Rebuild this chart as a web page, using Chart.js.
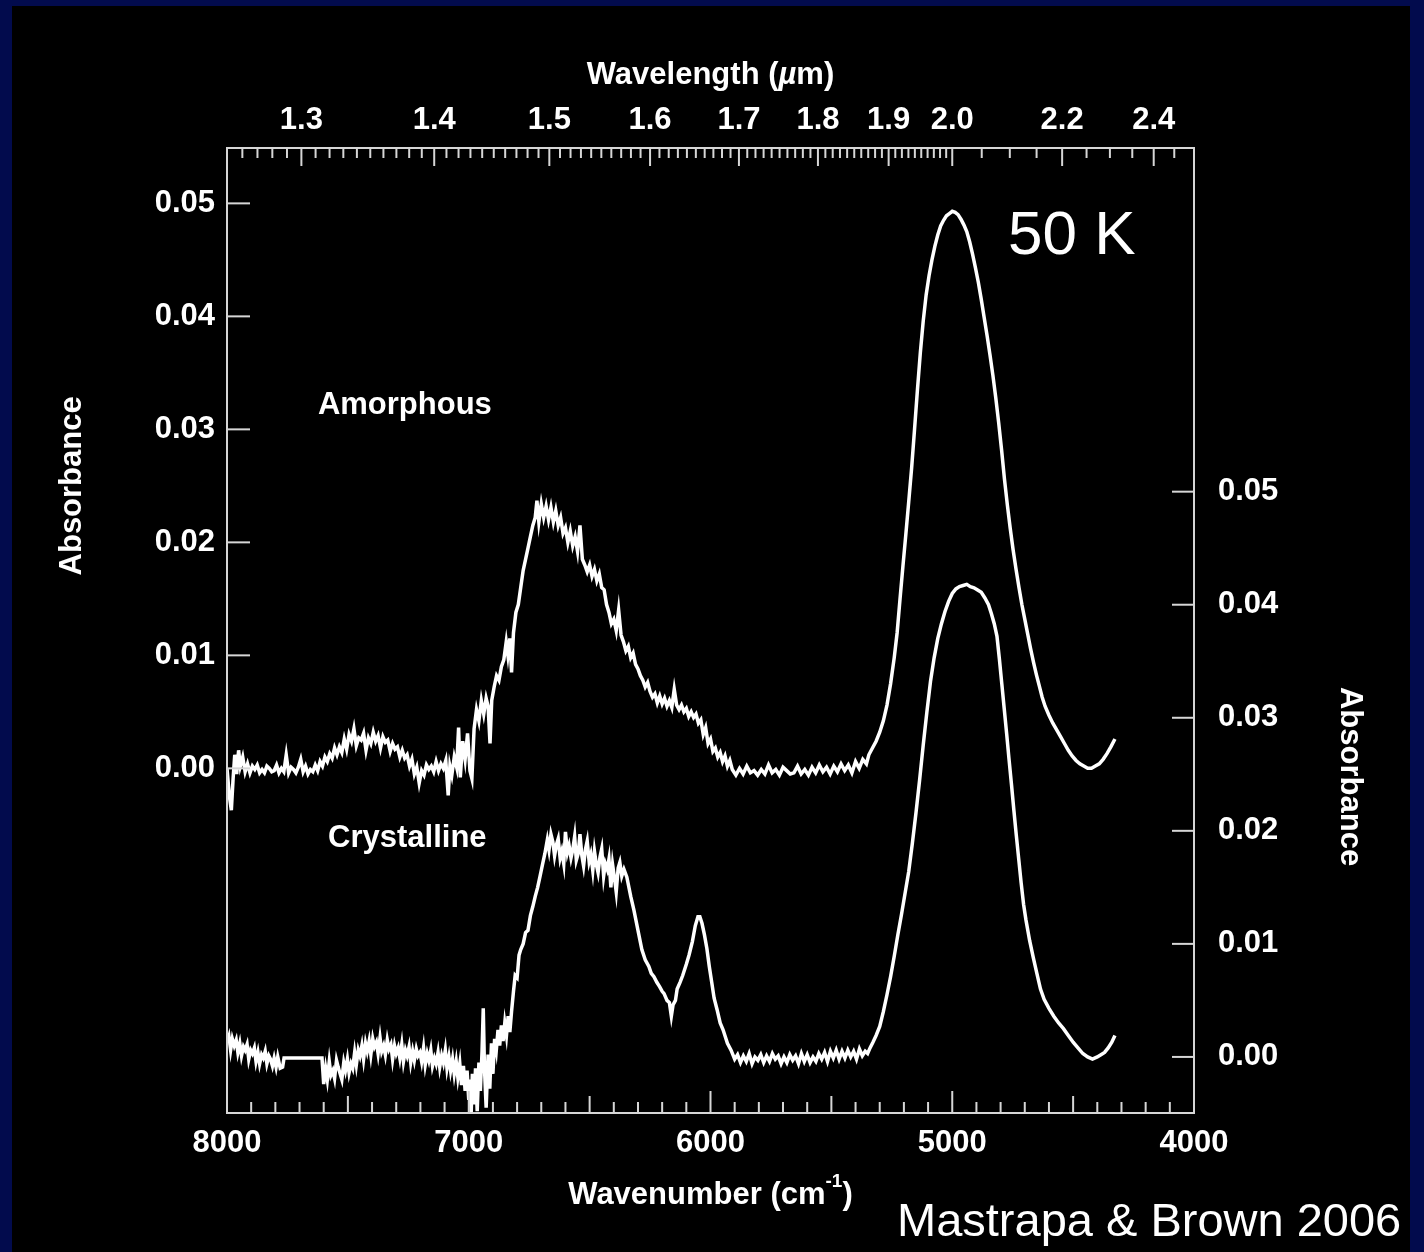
<!DOCTYPE html>
<html>
<head>
<meta charset="utf-8">
<title>Amorphous vs crystalline ice at 50 K</title>
<script src="https://cdn.jsdelivr.net/npm/chart.js@4.4.1/dist/chart.umd.min.js"></script>
<style>
  html, body { margin: 0; padding: 0; background: #020b4d; }
  canvas { display: block; }
</style>
</head>
<body>
<canvas id="spectra" width="1424" height="1252"></canvas>
<script>
// wavenumber (cm-1), absorbance
const amorphousSpectrum = [
  [8000, 0.0000], [7990, -0.0025], [7982, -0.0037], [7975, -0.0010], [7968, 0.0012], [7960, -0.0005],
  [7952, 0.0016], [7945, 0.0002], [7935, 0.0010], [7925, -0.0003], [7915, 0.0004], [7905, -0.0004],
  [7895, 0.0002], [7885, -0.0001], [7875, 0.0003], [7865, -0.0004], [7855, -0.0001], [7845, -0.0004],
  [7835, 0.0002], [7825, 0.0000], [7815, -0.0003], [7805, -0.0002], [7795, 0.0003], [7785, -0.0004],
  [7775, 0.0000], [7765, -0.0003], [7755, 0.0012], [7745, -0.0004], [7735, 0.0001], [7725, -0.0001],
  [7715, -0.0004], [7705, 0.0001], [7695, 0.0008], [7685, -0.0003], [7675, 0.0002], [7665, -0.0005],
  [7655, -0.0001], [7645, -0.0003], [7635, 0.0003], [7625, -0.0002], [7615, 0.0006], [7605, 0.0002],
  [7595, 0.0010], [7585, 0.0006], [7575, 0.0013], [7565, 0.0009], [7555, 0.0018], [7545, 0.0012],
  [7535, 0.0019], [7525, 0.0014], [7515, 0.0026], [7505, 0.0017], [7495, 0.0030], [7485, 0.0024],
  [7475, 0.0035], [7465, 0.0020], [7455, 0.0027], [7445, 0.0025], [7435, 0.0031], [7425, 0.0016],
  [7415, 0.0027], [7405, 0.0022], [7395, 0.0032], [7385, 0.0024], [7375, 0.0029], [7365, 0.0018],
  [7355, 0.0028], [7345, 0.0023], [7335, 0.0025], [7325, 0.0015], [7315, 0.0022], [7305, 0.0017],
  [7295, 0.0019], [7285, 0.0010], [7275, 0.0016], [7265, 0.0009], [7255, 0.0012], [7245, 0.0002],
  [7235, 0.0008], [7225, -0.0005], [7215, 0.0001], [7205, -0.0013], [7195, -0.0002], [7185, -0.0006],
  [7175, 0.0003], [7165, -0.0001], [7155, 0.0002], [7145, -0.0003], [7135, 0.0006], [7125, -0.0002],
  [7115, 0.0004], [7105, 0.0000], [7095, 0.0007], [7085, -0.0024], [7078, 0.0002], [7070, -0.0006],
  [7060, 0.0010], [7050, 0.0001], [7042, 0.0036], [7035, -0.0008], [7025, 0.0024], [7015, 0.0008],
  [7005, 0.0031], [6995, -0.0002], [6987, -0.0009], [6978, 0.0035], [6968, 0.0052], [6958, 0.0042],
  [6948, 0.0060], [6938, 0.0048], [6928, 0.0062], [6920, 0.0055], [6912, 0.0022], [6905, 0.0060],
  [6895, 0.0072], [6885, 0.0082], [6875, 0.0078], [6865, 0.0090], [6855, 0.0096], [6845, 0.0112],
  [6838, 0.0100], [6830, 0.0115], [6823, 0.0085], [6815, 0.0120], [6805, 0.0138], [6795, 0.0145],
  [6785, 0.0160], [6775, 0.0175], [6765, 0.0185], [6755, 0.0195], [6745, 0.0205], [6735, 0.0215],
  [6725, 0.0222], [6718, 0.0237], [6710, 0.0218], [6700, 0.0234], [6690, 0.0222], [6680, 0.0232],
  [6670, 0.0220], [6660, 0.0231], [6650, 0.0218], [6640, 0.0228], [6630, 0.0215], [6620, 0.0222],
  [6610, 0.0208], [6600, 0.0213], [6590, 0.0200], [6580, 0.0210], [6570, 0.0197], [6560, 0.0205],
  [6550, 0.0192], [6540, 0.0215], [6530, 0.0185], [6520, 0.0180], [6510, 0.0174], [6500, 0.0180],
  [6490, 0.0170], [6480, 0.0176], [6470, 0.0166], [6460, 0.0172], [6450, 0.0160], [6440, 0.0158],
  [6430, 0.0145], [6420, 0.0138], [6410, 0.0128], [6400, 0.0132], [6390, 0.0122], [6380, 0.0140],
  [6370, 0.0118], [6360, 0.0112], [6350, 0.0104], [6340, 0.0108], [6330, 0.0098], [6320, 0.0102],
  [6310, 0.0092], [6300, 0.0088], [6290, 0.0082], [6280, 0.0078], [6270, 0.0072], [6260, 0.0076],
  [6250, 0.0068], [6240, 0.0063], [6230, 0.0066], [6220, 0.0058], [6210, 0.0064], [6200, 0.0057],
  [6190, 0.0062], [6180, 0.0055], [6170, 0.0060], [6160, 0.0054], [6150, 0.0070], [6140, 0.0056],
  [6130, 0.0052], [6120, 0.0056], [6110, 0.0050], [6100, 0.0053], [6090, 0.0046], [6080, 0.0050],
  [6070, 0.0045], [6060, 0.0048], [6050, 0.0040], [6040, 0.0043], [6030, 0.0030], [6020, 0.0036],
  [6010, 0.0022], [6000, 0.0026], [5990, 0.0015], [5980, 0.0018], [5970, 0.0010], [5960, 0.0014],
  [5950, 0.0006], [5940, 0.0011], [5930, 0.0002], [5920, 0.0007], [5910, -0.0001], [5895, -0.0006],
  [5880, 0.0000], [5865, -0.0005], [5850, 0.0002], [5835, -0.0004], [5820, -0.0002], [5805, -0.0006],
  [5790, -0.0001], [5775, -0.0005], [5760, 0.0003], [5745, -0.0004], [5730, -0.0001], [5715, -0.0006],
  [5700, 0.0001], [5685, -0.0002], [5670, -0.0005], [5655, -0.0004], [5640, 0.0002], [5625, -0.0005],
  [5610, -0.0001], [5595, -0.0006], [5580, 0.0001], [5565, -0.0004], [5550, 0.0003], [5535, -0.0003],
  [5520, 0.0001], [5505, -0.0005], [5490, 0.0002], [5475, -0.0003], [5460, 0.0004], [5445, -0.0002],
  [5430, 0.0003], [5415, -0.0004], [5400, 0.0006], [5385, 0.0000], [5370, 0.0008], [5355, 0.0004],
  [5345, 0.0012], [5330, 0.0018], [5315, 0.0024], [5300, 0.0032], [5285, 0.0042], [5270, 0.0056],
  [5255, 0.0075], [5240, 0.0098], [5228, 0.0120], [5216, 0.0150], [5204, 0.0179], [5192, 0.0207],
  [5180, 0.0236], [5168, 0.0266], [5156, 0.0300], [5144, 0.0335], [5132, 0.0368], [5120, 0.0396],
  [5108, 0.0419], [5096, 0.0436], [5084, 0.0450], [5072, 0.0462], [5060, 0.0472], [5048, 0.0480],
  [5036, 0.0485], [5024, 0.0489], [5012, 0.0491], [5000, 0.0493], [4988, 0.0492], [4976, 0.0490],
  [4964, 0.0486], [4952, 0.0481], [4940, 0.0475], [4928, 0.0466], [4916, 0.0455], [4904, 0.0443],
  [4892, 0.0430], [4880, 0.0415], [4868, 0.0399], [4856, 0.0383], [4844, 0.0366], [4832, 0.0348],
  [4820, 0.0328], [4808, 0.0306], [4796, 0.0282], [4784, 0.0256], [4772, 0.0233], [4760, 0.0212],
  [4748, 0.0193], [4736, 0.0176], [4724, 0.0160], [4712, 0.0145], [4700, 0.0132], [4688, 0.0119],
  [4676, 0.0106], [4664, 0.0094], [4652, 0.0083], [4640, 0.0073], [4628, 0.0063], [4616, 0.0055],
  [4600, 0.0047], [4584, 0.0040], [4568, 0.0034], [4552, 0.0028], [4536, 0.0022], [4520, 0.0016],
  [4504, 0.0011], [4488, 0.0007], [4472, 0.0004], [4456, 0.0002], [4440, 0.0000], [4424, 0.0000],
  [4408, 0.0002], [4392, 0.0004], [4376, 0.0008], [4360, 0.0013], [4344, 0.0019], [4327, 0.0026]
];

const crystallineSpectrum = [
  [8000, 0.0012], [7992, 0.0018], [7985, 0.0006], [7978, 0.0016], [7970, 0.0010], [7962, 0.0015],
  [7955, 0.0004], [7947, 0.0012], [7940, 0.0001], [7932, 0.0009], [7925, 0.0006], [7917, 0.0011],
  [7910, -0.0002], [7902, 0.0006], [7895, 0.0003], [7887, 0.0008], [7880, -0.0004], [7872, 0.0004],
  [7865, -0.0006], [7857, 0.0002], [7850, -0.0001], [7842, 0.0005], [7835, -0.0006], [7827, 0.0001],
  [7820, -0.0002], [7812, -0.0008], [7805, -0.0001], [7797, -0.0009], [7790, 0.0000], [7780, -0.0010],
  [7770, -0.0009], [7764, -0.0001], [7607, -0.0001], [7600, -0.0024], [7592, -0.0010], [7585, -0.0020],
  [7577, -0.0004], [7570, -0.0016], [7562, -0.0012], [7555, -0.0019], [7547, -0.0003], [7540, -0.0009],
  [7532, -0.0015], [7525, -0.0020], [7517, -0.0005], [7510, -0.0012], [7502, -0.0002], [7495, -0.0014],
  [7487, -0.0006], [7480, -0.0010], [7472, 0.0004], [7465, -0.0007], [7457, 0.0006], [7450, 0.0001],
  [7442, 0.0010], [7435, -0.0002], [7427, 0.0012], [7420, 0.0005], [7412, 0.0014], [7405, 0.0002],
  [7397, 0.0016], [7390, 0.0009], [7382, 0.0013], [7375, 0.0003], [7367, 0.0017], [7360, 0.0005],
  [7352, 0.0010], [7345, 0.0002], [7337, 0.0015], [7330, 0.0007], [7322, 0.0011], [7315, -0.0002],
  [7307, 0.0010], [7300, 0.0003], [7292, 0.0008], [7285, -0.0001], [7277, 0.0011], [7270, -0.0004],
  [7262, 0.0006], [7255, 0.0001], [7247, 0.0009], [7240, -0.0005], [7232, 0.0005], [7225, -0.0003],
  [7217, 0.0007], [7210, 0.0001], [7202, 0.0004], [7195, -0.0004], [7187, 0.0008], [7180, -0.0007],
  [7172, 0.0003], [7165, -0.0003], [7157, 0.0006], [7150, -0.0008], [7142, -0.0001], [7135, -0.0006],
  [7127, 0.0004], [7120, -0.0009], [7112, 0.0001], [7105, -0.0005], [7097, 0.0006], [7090, -0.0010],
  [7082, 0.0000], [7075, -0.0012], [7067, -0.0002], [7060, -0.0015], [7052, -0.0004], [7045, -0.0018],
  [7037, -0.0006], [7030, -0.0025], [7022, -0.0008], [7015, -0.0030], [7007, -0.0012], [7000, -0.0038],
  [6995, -0.0020], [6990, -0.0050], [6985, -0.0015], [6978, -0.0042], [6972, -0.0010], [6965, -0.0048],
  [6958, -0.0005], [6952, -0.0030], [6945, 0.0005], [6940, 0.0043], [6935, -0.0010], [6928, -0.0045],
  [6920, 0.0002], [6913, -0.0028], [6906, 0.0012], [6900, -0.0015], [6893, 0.0016], [6886, 0.0006],
  [6879, 0.0024], [6872, 0.0010], [6865, 0.0028], [6858, 0.0014], [6851, 0.0030], [6844, 0.0019],
  [6837, 0.0036], [6830, 0.0022], [6823, 0.0040], [6815, 0.0058], [6808, 0.0072], [6800, 0.0070],
  [6792, 0.0090], [6785, 0.0095], [6775, 0.0100], [6765, 0.0110], [6755, 0.0112], [6745, 0.0125],
  [6735, 0.0133], [6725, 0.0142], [6715, 0.0150], [6705, 0.0160], [6695, 0.0170], [6685, 0.0180],
  [6675, 0.0192], [6668, 0.0183], [6660, 0.0197], [6652, 0.0190], [6645, 0.0178], [6637, 0.0188],
  [6630, 0.0193], [6622, 0.0176], [6615, 0.0182], [6607, 0.0171], [6600, 0.0199], [6592, 0.0181],
  [6585, 0.0187], [6577, 0.0176], [6570, 0.0183], [6562, 0.0195], [6555, 0.0174], [6547, 0.0180],
  [6540, 0.0197], [6532, 0.0178], [6525, 0.0169], [6517, 0.0184], [6510, 0.0191], [6502, 0.0173],
  [6495, 0.0179], [6487, 0.0165], [6480, 0.0182], [6472, 0.0170], [6465, 0.0163], [6457, 0.0177],
  [6450, 0.0184], [6442, 0.0160], [6435, 0.0171], [6427, 0.0166], [6420, 0.0175], [6412, 0.0150],
  [6405, 0.0170], [6397, 0.0158], [6390, 0.0146], [6382, 0.0167], [6375, 0.0172], [6367, 0.0160],
  [6358, 0.0166], [6346, 0.0159], [6330, 0.0142], [6317, 0.0130], [6300, 0.0112], [6284, 0.0095],
  [6270, 0.0086], [6255, 0.0080], [6245, 0.0074], [6234, 0.0071], [6222, 0.0066], [6210, 0.0062],
  [6200, 0.0058], [6192, 0.0056], [6180, 0.0050], [6170, 0.0048], [6162, 0.0036], [6155, 0.0046],
  [6145, 0.0050], [6138, 0.0060], [6126, 0.0066], [6115, 0.0072], [6100, 0.0082], [6089, 0.0090],
  [6075, 0.0102], [6063, 0.0116], [6052, 0.0124], [6044, 0.0124], [6035, 0.0118], [6025, 0.0108],
  [6015, 0.0096], [6005, 0.0080], [5995, 0.0066], [5985, 0.0052], [5973, 0.0042], [5960, 0.0030],
  [5948, 0.0024], [5930, 0.0012], [5915, 0.0006], [5900, -0.0002], [5888, 0.0002], [5876, -0.0005],
  [5864, 0.0001], [5852, -0.0004], [5840, 0.0003], [5828, -0.0006], [5816, 0.0000], [5804, -0.0003],
  [5792, 0.0002], [5780, -0.0005], [5768, 0.0001], [5756, -0.0004], [5744, 0.0003], [5732, -0.0002],
  [5720, 0.0001], [5708, -0.0006], [5696, 0.0000], [5684, -0.0005], [5672, 0.0002], [5660, -0.0003],
  [5648, 0.0001], [5636, -0.0006], [5624, 0.0003], [5612, -0.0004], [5600, 0.0002], [5588, -0.0005],
  [5576, 0.0000], [5564, -0.0004], [5552, 0.0003], [5540, -0.0002], [5528, 0.0004], [5516, -0.0004],
  [5504, 0.0005], [5492, -0.0001], [5480, 0.0006], [5468, -0.0002], [5456, 0.0005], [5444, -0.0001],
  [5432, 0.0006], [5420, 0.0000], [5408, 0.0005], [5396, -0.0002], [5384, 0.0007], [5372, 0.0001],
  [5360, 0.0005], [5350, 0.0003], [5340, 0.0008], [5328, 0.0013], [5315, 0.0019], [5300, 0.0027],
  [5285, 0.0040], [5270, 0.0055], [5255, 0.0071], [5240, 0.0089], [5225, 0.0108], [5210, 0.0126],
  [5195, 0.0145], [5180, 0.0164], [5165, 0.0189], [5150, 0.0216], [5135, 0.0245], [5120, 0.0276],
  [5105, 0.0305], [5090, 0.0332], [5075, 0.0353], [5060, 0.0370], [5045, 0.0383], [5030, 0.0394],
  [5015, 0.0403], [5000, 0.0410], [4985, 0.0414], [4970, 0.0416], [4955, 0.0417], [4940, 0.0418],
  [4925, 0.0416], [4910, 0.0415], [4895, 0.0413], [4880, 0.0411], [4865, 0.0406], [4850, 0.0400],
  [4838, 0.0392], [4826, 0.0383], [4815, 0.0372], [4805, 0.0352], [4795, 0.0330], [4785, 0.0308],
  [4775, 0.0286], [4765, 0.0263], [4755, 0.0241], [4745, 0.0218], [4735, 0.0196], [4725, 0.0175],
  [4715, 0.0154], [4705, 0.0135], [4695, 0.0121], [4680, 0.0103], [4665, 0.0088], [4650, 0.0074],
  [4635, 0.0060], [4620, 0.0051], [4600, 0.0043], [4580, 0.0036], [4560, 0.0030], [4540, 0.0025],
  [4520, 0.0019], [4500, 0.0013], [4480, 0.0008], [4460, 0.0003], [4440, 0.0000], [4420, -0.0002],
  [4400, 0.0000], [4385, 0.0002], [4370, 0.0004], [4355, 0.0008], [4340, 0.0013], [4327, 0.0019]
];

const wavenumberTicks = [8000, 7000, 6000, 5000, 4000];
const absorbanceTicks = [0, 0.01, 0.02, 0.03, 0.04, 0.05];
const wavelengthTicks = [1.3, 1.4, 1.5, 1.6, 1.7, 1.8, 1.9, 2.0, 2.2, 2.4];

const NAVY = "#020b4d";
const FRAME = "#d6d6d6";
const FAMILY = "'Liberation Sans', Arial, Helvetica, sans-serif";
const tickFont = { family: FAMILY, size: 31, weight: "bold", lineHeight: 1.2 };

function toPoints(rows) {
  return rows.map(([x, y]) => ({ x, y }));
}

function line(ctx, x1, y1, x2, y2) {
  ctx.beginPath();
  ctx.moveTo(x1, y1);
  ctx.lineTo(x2, y2);
  ctx.stroke();
}

// draw a run of text pieces with different fonts, centred on cx
function drawRuns(ctx, runs, cx, cy) {
  let total = 0;
  for (const r of runs) { ctx.font = r.font; total += ctx.measureText(r.text).width; }
  let x = cx - total / 2;
  for (const r of runs) {
    ctx.font = r.font;
    ctx.fillText(r.text, x, cy + (r.dy || 0));
    x += ctx.measureText(r.text).width;
  }
}

const framePlugin = {
  id: "frame",
  beforeDraw(chart) {
    const { ctx, width, height } = chart;
    ctx.save();
    ctx.fillStyle = NAVY;
    ctx.fillRect(0, 0, width, height);
    ctx.fillStyle = "#000";
    ctx.fillRect(12, 6, width - 26, height - 6);
    ctx.restore();
  },
  afterDraw(chart) {
    const { ctx, chartArea } = chart;
    const { left, right, top, bottom } = chartArea;
    const x = chart.scales.x, y = chart.scales.y, y2 = chart.scales.y2;
    ctx.save();
    ctx.strokeStyle = FRAME;
    ctx.lineWidth = 2;
    ctx.strokeRect(left, top, right - left, bottom - top);

    // bottom: minor every 100, medium 500, major 1000
    for (let v = 4000; v <= 8000; v += 100) {
      const px = x.getPixelForValue(v);
      const len = v % 1000 === 0 ? 22 : v % 500 === 0 ? 17 : 11;
      line(ctx, px, bottom, px, bottom - len);
    }
    // top: wavelength ticks (0.01 um up to 2.0, then 0.05 um)
    const lams = [];
    for (let i = 126; i < 200; i++) lams.push(i / 100);
    for (let i = 200; i <= 245; i += 5) lams.push(i / 100);
    for (const lam of lams) {
      const px = x.getPixelForValue(10000 / lam);
      const major = wavelengthTicks.some(t => Math.abs(t - lam) < 1e-6);
      line(ctx, px, top, px, top + (major ? 18 : 10));
    }
    // left and right major ticks point inward
    for (const v of absorbanceTicks) {
      const pl = y.getPixelForValue(v);
      line(ctx, left, pl, left + 23, pl);
      const pr = y2.getPixelForValue(v);
      line(ctx, right, pr, right - 22, pr);
    }

    ctx.fillStyle = "#fff";
    ctx.textBaseline = "middle";
    const bold = `bold 31px ${FAMILY}`;

    // axis titles
    drawRuns(ctx, [
      { text: "Wavelength (", font: bold },
      { text: "\u00b5", font: `italic bold 31px ${FAMILY}` },
      { text: "m)", font: bold }
    ], (left + right) / 2, top - 73);
    drawRuns(ctx, [
      { text: "Wavenumber (cm", font: bold },
      { text: "-1", font: `bold 19px ${FAMILY}`, dy: -13 },
      { text: ")", font: bold }
    ], (left + right) / 2, bottom + 82);

    ctx.font = bold;
    ctx.textAlign = "center";
    ctx.save();
    ctx.translate(left - 155, y.getPixelForValue(0.025));
    ctx.rotate(-Math.PI / 2);
    ctx.fillText("Absorbance", 0, 0);
    ctx.restore();
    ctx.save();
    ctx.translate(right + 156, y2.getPixelForValue(0.0248));
    ctx.rotate(Math.PI / 2);
    ctx.fillText("Absorbance", 0, 0);
    ctx.restore();

    // curve labels
    ctx.textAlign = "left";
    ctx.fillText("Amorphous", x.getPixelForValue(7624), y.getPixelForValue(0.0321));
    ctx.fillText("Crystalline", x.getPixelForValue(7582), y2.getPixelForValue(0.0193));
    ctx.font = `62px ${FAMILY}`;
    ctx.fillText("50 K", x.getPixelForValue(4769), y.getPixelForValue(0.0470));

    ctx.font = `47px ${FAMILY}`;
    ctx.fillText("Mastrapa & Brown 2006", 897, bottom + 110);
    ctx.restore();
  }
};

const axisCommon = {
  grid: { display: false, drawTicks: false },
  border: { display: false }
};

new Chart(document.getElementById("spectra"), {
  type: "line",
  data: {
    datasets: [
      {
        label: "Amorphous",
        data: toPoints(amorphousSpectrum),
        yAxisID: "y",
        borderColor: "#ffffff",
        borderWidth: 3.5,
        pointRadius: 0,
        tension: 0,
        fill: false
      },
      {
        label: "Crystalline",
        data: toPoints(crystallineSpectrum),
        yAxisID: "y2",
        borderColor: "#ffffff",
        borderWidth: 3.5,
        pointRadius: 0,
        tension: 0,
        fill: false
      }
    ]
  },
  options: {
    responsive: false,
    animation: false,
    events: [],
    layout: { padding: 0 },
    plugins: {
      legend: { display: false },
      tooltip: { enabled: false }
    },
    scales: {
      x: {
        ...axisCommon,
        type: "linear",
        position: "bottom",
        reverse: true,
        min: 4000,
        max: 8000,
        afterBuildTicks: (s) => { s.ticks = wavenumberTicks.map(value => ({ value })); },
        afterFit: (s) => { s.height = 139; },
        ticks: { color: "#fff", font: tickFont, padding: 12, maxRotation: 0, autoSkip: false, callback: (v) => String(v) }
      },
      xTop: {
        ...axisCommon,
        type: "linear",
        position: "top",
        reverse: true,
        min: 4000,
        max: 8000,
        afterBuildTicks: (s) => { s.ticks = wavelengthTicks.map(l => ({ value: 10000 / l })); },
        afterFit: (s) => { s.height = 148; },
        ticks: { color: "#fff", font: tickFont, padding: 9, maxRotation: 0, autoSkip: false, callback: (v, i) => wavelengthTicks[i].toFixed(1) }
      },
      y: {
        ...axisCommon,
        position: "left",
        min: -0.0305,
        max: 0.0549,
        afterBuildTicks: (s) => { s.ticks = absorbanceTicks.map(value => ({ value })); },
        afterFit: (s) => { s.width = 227; },
        ticks: { color: "#fff", font: tickFont, padding: 12, callback: (v) => v.toFixed(2) }
      },
      y2: {
        ...axisCommon,
        position: "right",
        min: -0.00496,
        max: 0.0804,
        afterBuildTicks: (s) => { s.ticks = absorbanceTicks.map(value => ({ value })); },
        afterFit: (s) => { s.width = 230; },
        ticks: { color: "#fff", font: tickFont, padding: 24, callback: (v) => v.toFixed(2) }
      }
    }
  },
  plugins: [framePlugin]
});
</script>
</body>
</html>
